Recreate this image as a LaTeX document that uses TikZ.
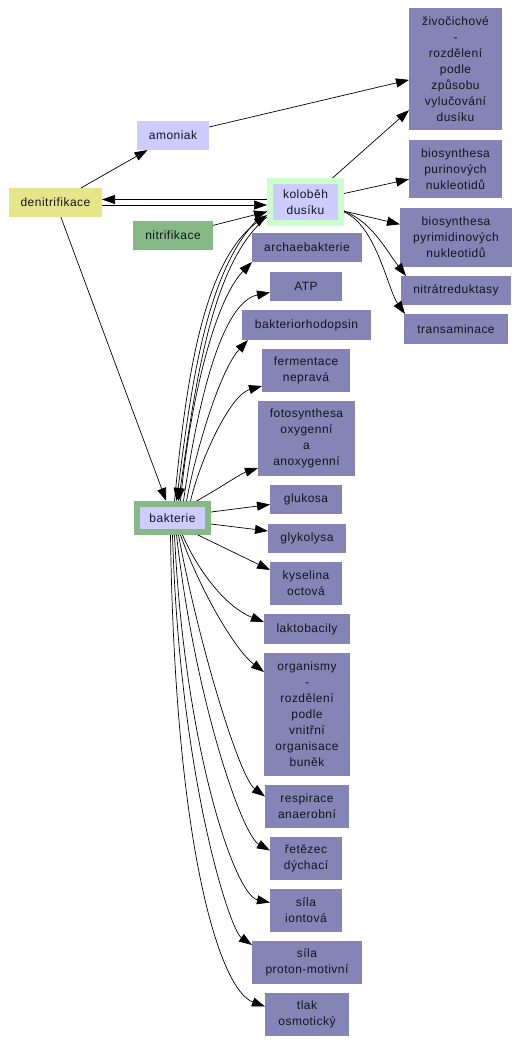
\documentclass[tikz,border=0pt]{standalone}
\usepackage{fontspec}
\setmainfont{Liberation Sans}[LetterSpace=4.0]
\usetikzlibrary{arrows.meta}
\definecolor{yel}{RGB}{229,229,138}
\definecolor{lav}{RGB}{204,204,255}
\definecolor{grn}{RGB}{134,185,134}
\definecolor{lgrn}{RGB}{204,255,204}
\definecolor{purp}{RGB}{132,132,182}
\definecolor{txt}{RGB}{20,20,30}
\begin{document}
\begin{tikzpicture}[x=1pt,y=-1pt,
  box/.style={rectangle, fill=purp, inner sep=0pt, outer sep=0pt, align=center, text=txt,
    font=\fontsize{12}{16}\selectfont},
  arr/.style={-{Triangle[length=13pt,width=9pt]}, line width=0.7pt, black}]
\useasboundingbox (0,0) rectangle (519,1043);
% nodes
\node[box, fill=yel, minimum width=93pt, minimum height=29pt] (den) at (55.5,202.5) {denitrifikace};
\node[box, fill=lav, minimum width=72pt, minimum height=29pt] (amo) at (173,135.5) {amoniak};
\node[box, fill=grn, minimum width=80pt, minimum height=29pt] (nit) at (173,235.5) {nitrifikace};
\node[box, fill=lav, draw=lgrn, line width=6pt, outer sep=3pt, minimum width=71pt, minimum height=42pt] (kol) at (305.5,202) {koloběh\\dusíku};
\node[box, minimum width=93pt, minimum height=122pt] (ziv) at (455.5,69) {živočichové\\-\\rozdělení\\podle\\způsobu\\vylučování\\dusíku};
\node[box, minimum width=93pt, minimum height=58pt] (pur) at (455.5,169) {biosynthesa\\purinových\\nukleotidů};
\node[box, minimum width=112pt, minimum height=59pt] (pyr) at (456,237.5) {biosynthesa\\pyrimidinových\\nukleotidů};
\node[box, minimum width=110pt, minimum height=29pt] (nitr) at (456,290.5) {nitrátreduktasy};
\node[box, minimum width=104pt, minimum height=30pt] (trans) at (456,329) {transaminace};
\node[box, minimum width=110pt, minimum height=29pt] (arch) at (307,247.5) {archaebakterie};
\node[box, minimum width=72pt, minimum height=29pt] (atp) at (306,286.5) {ATP};
\node[box, minimum width=129pt, minimum height=30pt] (bro) at (306.5,325) {bakteriorhodopsin};
\node[box, minimum width=88pt, minimum height=43pt] (fer) at (306,370.5) {fermentace\\nepravá};
\node[box, minimum width=97pt, minimum height=75pt] (fot) at (306.5,438.5) {fotosynthesa\\oxygenní\\a\\anoxygenní};
\node[box, fill=lav, draw=grn, line width=6pt, outer sep=3pt, minimum width=71pt, minimum height=28pt] (bak) at (172.5,518) {bakterie};
\node[box, minimum width=72pt, minimum height=29pt] (glu) at (306,499.5) {glukosa};
\node[box, minimum width=78pt, minimum height=29pt] (gly) at (307,538.5) {glykolysa};
\node[box, minimum width=72pt, minimum height=43pt] (kys) at (306,583.5) {kyselina\\octová};
\node[box, minimum width=86pt, minimum height=30pt] (lak) at (307,629) {laktobacily};
\node[box, minimum width=86pt, minimum height=123pt] (org) at (307,714.5) {organismy\\-\\rozdělení\\podle\\vnitřní\\organisace\\buněk};
\node[box, minimum width=84pt, minimum height=43pt] (resp) at (307,806.5) {respirace\\anaerobní};
\node[box, minimum width=72pt, minimum height=43pt] (ret) at (306,858.5) {řetězec\\dýchací};
\node[box, minimum width=72pt, minimum height=43pt] (ion) at (306,910.5) {síla\\iontová};
\node[box, minimum width=110pt, minimum height=43pt] (pro) at (307,962.5) {síla\\proton-motivní};
\node[box, minimum width=84pt, minimum height=43pt] (tla) at (307,1014.5) {tlak\\osmotický};
% edges - top part
\draw[arr] (den) -- (amo);
\draw[arr] (amo) -- (ziv);
\draw[arr] (kol) -- (ziv);
\draw[arr] (kol) -- (pur);
\draw[arr] (kol) -- (pyr);
\draw[arr] ([yshift=-9pt]kol.east) .. controls (372,222) and (386,250) .. ([xshift=5pt]nitr.north west);
\draw[arr] ([yshift=-10pt]kol.east) .. controls (376,225) and (388,290) .. ([xshift=1pt]trans.north west);
\draw[arr] ([yshift=2.5pt]kol.west) -- ([yshift=3pt]den.east);
\draw[arr] ([yshift=-2.5pt]den.east) -- ([yshift=-3pt]kol.west);
\draw[arr] (nit) -- (kol);
\draw[arr] (den) -- (bak);
% bakterie <-> kolobeh
\draw[arr] ([xshift=2pt]bak.north) .. controls (186,380) and (203,262) .. ([yshift=-13pt]kol.west);
\draw[arr] ([yshift=-9pt]kol.west) .. controls (208,258) and (192,380) .. ([xshift=4pt]bak.north);
\draw[arr] ([yshift=-15pt]kol.west) .. controls (212,262) and (196,380) .. ([xshift=6pt]bak.north);
% bakterie -> upper targets
\draw[arr] ([xshift=8pt]bak.north) .. controls (190,400) and (215,300) .. (arch.south west);
\draw[arr] ([xshift=11pt]bak.north) .. controls (198,400) and (222,302) .. ([yshift=-6pt]atp.west);
\draw[arr] ([xshift=14pt]bak.north) .. controls (196,450) and (220,370) .. ([xshift=6pt]bro.south west);
\draw[arr] ([xshift=18pt]bak.north) .. controls (200,460) and (230,395) .. ([yshift=6pt]fer.south west);
\draw[arr] ([xshift=24pt]bak.north) .. controls (220,488) and (240,474) .. ([yshift=8pt]fot.south west);
% bakterie -> right targets
\draw[arr] ([yshift=6pt]bak.east) -- ([yshift=-5pt]glu.west);
\draw[arr] ([yshift=-6pt]bak.east) -- ([yshift=7.5pt]gly.west);
\draw[arr] ([xshift=-13pt]bak.south east) -- ([yshift=-8pt]kys.north west);
% bakterie -> lower targets
\draw[arr] ([xshift=10pt]bak.south) .. controls (200,575) and (228,608) .. ([yshift=-8pt]lak.north west);
\draw[arr] ([xshift=8pt]bak.south) .. controls (200,590) and (235,650) .. ([yshift=-19pt]org.north west);
\draw[arr] ([xshift=6pt]bak.south) .. controls (200,650) and (240,778) .. ([yshift=10pt]resp.west);
\draw[arr] ([xshift=4pt]bak.south) .. controls (195,700) and (242,835) .. ([yshift=8pt]ret.west);
\draw[arr] ([xshift=2pt]bak.south) .. controls (185,750) and (235,895) .. ([yshift=8pt]ion.west);
\draw[arr] (bak.south) .. controls (180,780) and (230,930) .. ([yshift=-4pt]pro.north west);
\draw[arr] ([xshift=-2pt]bak.south) .. controls (175,850) and (220,990) .. ([yshift=8pt]tla.west);
\end{tikzpicture}
\end{document}
